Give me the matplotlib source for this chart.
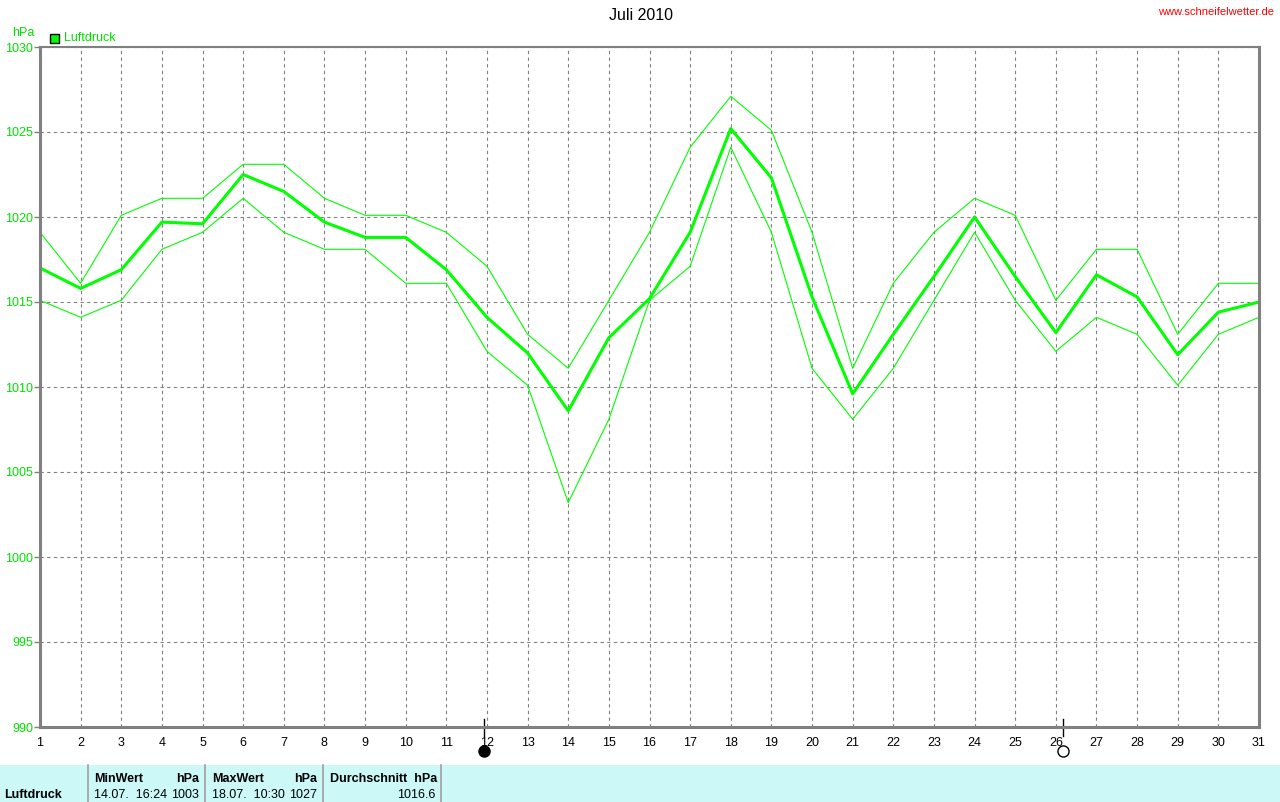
import numpy as np
import matplotlib.pyplot as plt
from matplotlib.patches import Rectangle

plt.rcParams['font.family'] = ['Liberation Sans', 'DejaVu Sans']

W, H = 1280, 802

# Tage im Juli 2010
tage = np.arange(1, 32)

# Luftdruck (hPa) je Tag
druck_mittel = [1017.0, 1015.8, 1016.9, 1019.7, 1019.6, 1022.5, 1021.5, 1019.7, 1018.8, 1018.8,
                1016.9, 1014.1, 1012.0, 1008.6, 1012.9, 1015.2, 1019.1, 1025.2, 1022.3, 1015.3,
                1009.6, 1013.1, 1016.5, 1020.0, 1016.5, 1013.2, 1016.6, 1015.3, 1011.9, 1014.4,
                1015.0]
druck_max = [1019.1, 1016.1, 1020.1, 1021.1, 1021.1, 1023.1, 1023.1, 1021.1, 1020.1, 1020.1,
             1019.1, 1017.1, 1013.1, 1011.1, 1015.1, 1019.1, 1024.1, 1027.1, 1025.1, 1019.1,
             1011.1, 1016.1, 1019.1, 1021.1, 1020.1, 1015.1, 1018.1, 1018.1, 1013.1, 1016.1,
             1016.1]
druck_min = [1015.1, 1014.1, 1015.1, 1018.1, 1019.1, 1021.1, 1019.1, 1018.1, 1018.1, 1016.1,
             1016.1, 1012.1, 1010.1, 1003.2, 1008.1, 1015.1, 1017.1, 1024.1, 1019.1, 1011.1,
             1008.1, 1011.1, 1015.1, 1019.1, 1015.1, 1012.1, 1014.1, 1013.1, 1010.1, 1013.1,
             1014.1]

y_ticks = [990, 995, 1000, 1005, 1010, 1015, 1020, 1025, 1030]

# Mondphasen (Position auf der Tagesachse)
neumond = 11.92
vollmond = 26.17

# Tabelle unten
tab_kopf = ['MinWert', 'hPa', 'MaxWert', 'hPa', 'Durchschnitt  hPa']
tab_werte = ['14.07.  16:24', '1003', '18.07.  10:30', '1027', '1016.6']

GRUEN = '#00ff00'
TXTGRUEN = '#00e000'
GRAU = '#808080'
FS = 9


def px(x, y):
    return x / W, 1 - y / H


fig = plt.figure(figsize=(W / 100, H / 100), dpi=100)
left, right, top, bottom = 40, 1259, 47, 727
ax = fig.add_axes([left / W, 1 - bottom / H, (right - left) / W, (bottom - top) / H])

ax.plot(tage, druck_max, color=GRUEN, lw=0.8)
ax.plot(tage, druck_min, color=GRUEN, lw=0.8)
ax.plot(tage, druck_mittel, color=GRUEN, lw=2.2)

ax.set_xlim(1, 31)
ax.set_ylim(990, 1030)
ax.set_xticks(tage)
ax.set_yticks(y_ticks)
ax.grid(True, color=GRAU, linestyle=(0, (3, 3)), lw=0.8)
ax.tick_params(axis='x', length=0, pad=7, labelsize=FS, labelcolor='black')
ax.tick_params(axis='y', length=4, width=1, color=GRAU, pad=1, labelsize=FS, labelcolor=TXTGRUEN)
for s in ['left', 'bottom', 'right']:
    ax.spines[s].set_color(GRAU)
    ax.spines[s].set_linewidth(2.2)
ax.spines['top'].set_color(GRAU)
ax.spines['top'].set_linewidth(1.5)

# Mondphasen
for pos, fc in [(neumond, 'black'), (vollmond, 'white')]:
    ax.plot([pos, pos], [990.5, 989.5], color='black', lw=1, clip_on=False)
    ax.plot([pos], [988.6], marker='o', ms=8, mfc=fc, mec='black', mew=1, clip_on=False)

# Titel, Einheit, Legende, Quelle
fig.text(*px(641, 15), 'Juli 2010', ha='center', va='center', fontsize=11.5)
fig.text(*px(1216, 12), 'www.schneifelwetter.de', color='red', ha='center', va='center', fontsize=8)
fig.text(*px(12, 33), 'hPa', color=TXTGRUEN, ha='left', va='center', fontsize=FS)
fig.patches.append(Rectangle(px(50, 43), 9 / W, 9 / H, transform=fig.transFigure,
                             facecolor=GRUEN, edgecolor='black', lw=1))
fig.text(*px(64, 38), 'Luftdruck', color=TXTGRUEN, ha='left', va='center', fontsize=FS)

# Tabelle
fig.patches.append(Rectangle(px(0, 802), 1, 37 / H, transform=fig.transFigure,
                             facecolor='#ccf8f8', edgecolor='none'))
for xs in [88, 205, 323, 441]:
    fig.lines.append(plt.Line2D([xs / W, xs / W], [0, 37 / H], transform=fig.transFigure,
                                color='#a0a0a0', lw=1.2))
fig.text(*px(4, 795), 'Luftdruck', fontsize=FS, weight='bold', va='center')
fig.text(*px(94, 779), tab_kopf[0], fontsize=FS, weight='bold', va='center')
fig.text(*px(199, 779), tab_kopf[1], fontsize=FS, weight='bold', va='center', ha='right')
fig.text(*px(212, 779), tab_kopf[2], fontsize=FS, weight='bold', va='center')
fig.text(*px(317, 779), tab_kopf[3], fontsize=FS, weight='bold', va='center', ha='right')
fig.text(*px(330, 779), tab_kopf[4], fontsize=FS, weight='bold', va='center')
fig.text(*px(94, 795), tab_werte[0], fontsize=FS, va='center')
fig.text(*px(199, 795), tab_werte[1], fontsize=FS, va='center', ha='right')
fig.text(*px(212, 795), tab_werte[2], fontsize=FS, va='center')
fig.text(*px(317, 795), tab_werte[3], fontsize=FS, va='center', ha='right')
fig.text(*px(435, 795), tab_werte[4], fontsize=FS, va='center', ha='right')

fig.savefig('out.png', dpi=100)
